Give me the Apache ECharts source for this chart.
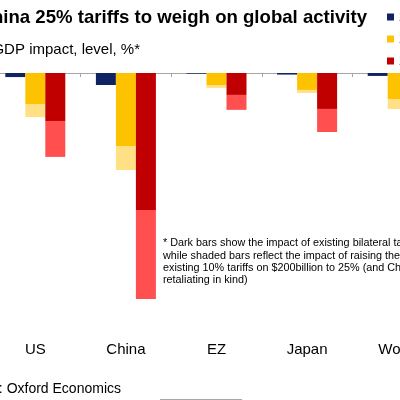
<!DOCTYPE html>
<html>
<head>
<meta charset="utf-8">
<script src="https://cdn.jsdelivr.net/npm/echarts@6/dist/echarts.min.js"></script>
<style>
  html, body { margin: 0; padding: 0; background: #fff; }
  #chart { width: 400px; height: 400px; }
</style>
</head>
<body>
<div id="chart"></div>
<script>
// GDP impact, level, % (solid = existing tariffs, shade = raise to 25%)
const regions = ['US', 'China', 'EZ', 'Japan', 'World'];
const years = ['2018', '2019', '2020'];
const navy = [-0.018, -0.053, -0.003, -0.007, -0.013];
const yellowSolid = [-0.137, -0.323, -0.053, -0.075, -0.115];
const yellowShade = [-0.058, -0.106, -0.013, -0.013, -0.044];
const redSolid = [-0.212, -0.606, -0.097, -0.159, -0.200];
const redShade = [-0.159, -0.394, -0.066, -0.102, -0.120];

const font = 'Liberation Sans, Arial, sans-serif';
const chart = echarts.init(document.getElementById('chart'));

const bar = (name, data, color, stack) => ({
  name, type: 'bar', data, stack,
  barWidth: 20, barGap: '0%',
  itemStyle: { color },
  emphasis: { disabled: true }
});

chart.setOption({
  animation: false,
  textStyle: { fontFamily: font },
  title: [
    {
      text: 'US-China 25% tariffs to weigh on global activity',
      right: 28, top: 3,
      textStyle: { fontFamily: font, fontSize: 18.6, fontWeight: 'bold', color: '#000' }
    },
    {
      text: 'GDP impact, level, %*',
      right: 255, top: 37,
      textStyle: { fontFamily: font, fontSize: 15, fontWeight: 'normal', color: '#000' }
    }
  ],
  legend: {
    orient: 'vertical',
    left: 382, top: 5,
    itemWidth: 7, itemHeight: 7, itemGap: 8,
    icon: 'rect',
    data: years,
    textStyle: { fontFamily: font, fontSize: 14, color: '#000' }
  },
  grid: { left: -10, right: -43, top: 73, bottom: 67, outerBoundsMode: 'none' },
  xAxis: [
    {
      type: 'category', data: regions, position: 'bottom',
      axisLine: { onZero: true, lineStyle: { color: '#a6a6a6', width: 1 } },
      axisTick: { show: true, length: 4, lineStyle: { color: '#a6a6a6' } },
      axisLabel: { show: false }
    },
    {
      type: 'category', data: regions, position: 'bottom',
      axisLine: { show: false, onZero: false },
      axisTick: { show: false },
      axisLabel: { margin: 9, fontSize: 15, color: '#000', fontFamily: font }
    }
  ],
  yAxis: { type: 'value', min: -1.15, max: 0, show: false },
  series: [
    bar('2018', navy, '#0f2462', 'n'),
    bar('2019', yellowSolid, '#fdc300', 'y'),
    bar('2019 shaded', yellowShade, '#ffe085', 'y'),
    bar('2020', redSolid, '#c00000', 'r'),
    bar('2020 shaded', redShade, '#ff4f4f', 'r')
  ],
  graphic: [
    {
      type: 'text', left: 163, top: 237,
      style: {
        text: '* Dark bars show the impact of existing bilateral tariffs,\n' +
              'while shaded bars reflect the impact of raising the\n' +
              'existing 10% tariffs on $200billion to 25% (and China\n' +
              'retaliating in kind)',
        font: '10.8px ' + font, lineHeight: 12.4, fill: '#000'
      }
    },
    {
      type: 'text', x: 121, y: 389,
      style: {
        text: 'Source: Oxford Economics', align: 'right', verticalAlign: 'middle',
        font: '14px ' + font, fill: '#000'
      }
    },
    {
      type: 'line', shape: { x1: 160, y1: 399.5, x2: 242, y2: 399.5 },
      style: { stroke: '#a6a6a6', lineWidth: 1 }
    }
  ]
});
</script>
</body>
</html>
